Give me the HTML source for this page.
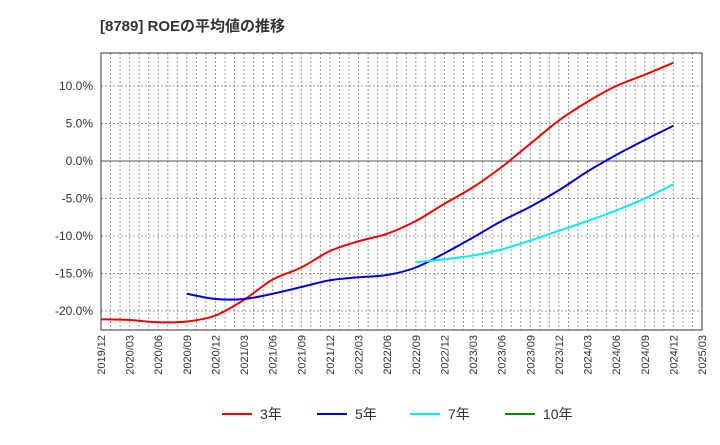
<!DOCTYPE html>
<html><head><meta charset="utf-8"><style>
body{margin:0;background:#fff;font-family:"Liberation Sans","Noto Sans CJK JP",sans-serif}
</style></head><body>
<svg id="c" width="720" height="440" xmlns="http://www.w3.org/2000/svg">
<text x="100" y="31" font-size="15" font-weight="bold" fill="#333">[8789]  ROEの平均値の推移</text>
<g id="grid"></g><g id="axes"></g><g id="series"></g><g id="legend"></g>
</svg>
<script>
const xLabels=["2019/12","2020/03","2020/06","2020/09","2020/12","2021/03","2021/06","2021/09","2021/12","2022/03","2022/06","2022/09","2022/12","2023/03","2023/06","2023/09","2023/12","2024/03","2024/06","2024/09","2024/12","2025/03"];
const yTicks=[10,5,0,-5,-10,-15,-20];
const s3=[-21.1,-21.2,-21.5,-21.4,-20.6,-18.5,-15.8,-14.2,-12.0,-10.7,-9.7,-8.0,-5.7,-3.5,-0.8,2.3,5.4,7.9,10.0,11.5,13.1];
const s5=[null,null,null,-17.7,-18.4,-18.4,-17.7,-16.8,-15.9,-15.5,-15.2,-14.2,-12.3,-10.2,-8.0,-6.1,-3.9,-1.4,0.8,2.8,4.7];
const s7=[null,null,null,null,null,null,null,null,null,null,null,-13.5,-13.1,-12.6,-11.8,-10.6,-9.3,-8.0,-6.6,-5.0,-3.1];
const s10=[];
const L=101,R=702,T=53,B=330;
const xq=i=>L+i*(R-L)/(xLabels.length-1);
const y=v=>161-v*7.5;
const NS="http://www.w3.org/2000/svg";
function mk(tag,attrs,parent,txt){const e=document.createElementNS(NS,tag);for(const k in attrs)e.setAttribute(k,attrs[k]);if(txt!==undefined)e.textContent=txt;document.getElementById(parent).appendChild(e);return e;}
const months=(xLabels.length-1)*3;
for(let m=1;m<months;m++){const x=L+m*(R-L)/months;const e=mk('line',{x1:x,x2:x,y1:T,y2:B,stroke:'#999','stroke-width':1,'stroke-dasharray':'2,2'},'grid');

}
yTicks.forEach(v=>{const e=mk('line',{x1:L,x2:R,y1:y(v),y2:y(v),stroke:v===0?'#555':'#999','stroke-width':1,'stroke-dasharray':v===0?'':'2,2'},'grid');


const t=mk('text',{x:L-8,y:y(v)+4,'text-anchor':'end','font-size':12,fill:'#333'},'axes',v.toFixed(1)+'%');

});
const fr=mk('rect',{x:L,y:T,width:R-L,height:B-T,fill:'none',stroke:'#333','stroke-width':1},'axes');


xLabels.forEach((l,i)=>{const x=xq(i);const t=mk('text',{x:x+4,y:B+5,'text-anchor':'end','font-size':11,fill:'#333',transform:`rotate(-90 ${x+4} ${B+5})`},'axes',l);

});
function path(arr){const p=[];arr.forEach((v,i)=>{if(v!==null&&v!==undefined)p.push([xq(i),y(v)]);});if(p.length<2)return '';
let d=`M${p[0][0]},${p[0][1]}`;for(let i=0;i<p.length-1;i++){const p0=p[i-1]||p[i],p1=p[i],p2=p[i+1],p3=p[i+2]||p2;
d+=` C${p1[0]+(p2[0]-p0[0])/6},${p1[1]+(p2[1]-p0[1])/6} ${p2[0]-(p3[0]-p1[0])/6},${p2[1]-(p3[1]-p1[1])/6} ${p2[0]},${p2[1]}`;}return d;}
const series=[[s3,'#e00','3年','line-3yr'],[s5,'#00d','5年','line-5yr'],[s7,'#0ee','7年','line-7yr'],[s10,'#080','10年','line-10yr']];
series.forEach(([a,c,n,nm],k)=>{const d=path(a);if(d){const e=mk('path',{d:d,fill:'none',stroke:c,'stroke-width':2},'series');

}
const lx=[222,317,410,505][k];
const ln=mk('line',{x1:lx,x2:lx+30,y1:414,y2:414,stroke:c,'stroke-width':2},'legend');


const t=mk('text',{x:lx+38,y:419,'font-size':14,fill:'#333'},'legend',n);

});
</script>
</body></html>
